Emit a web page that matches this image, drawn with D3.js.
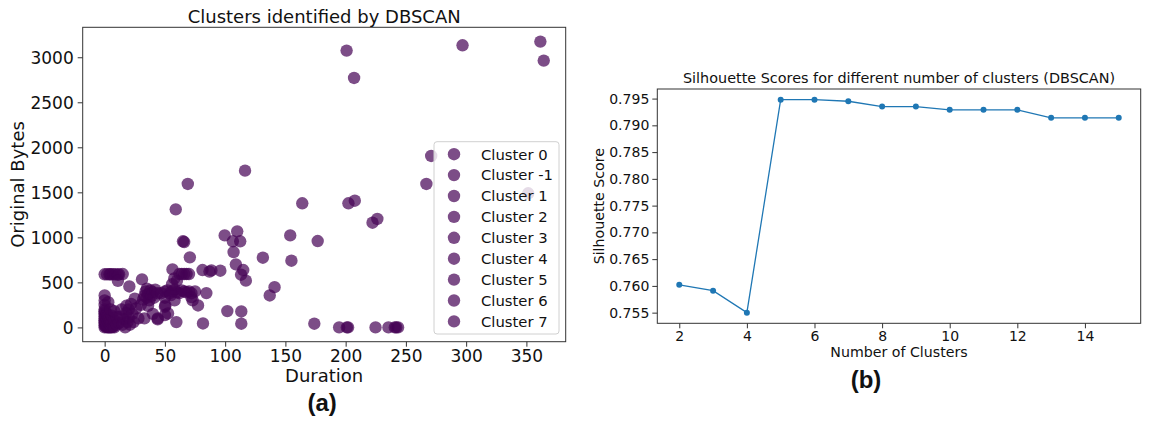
<!DOCTYPE html>
<html>
<head>
<meta charset="utf-8">
<script src="https://cdn.jsdelivr.net/npm/d3@7"></script>
<style>
  html, body { margin: 0; padding: 0; background: #fff; }
  svg text { font-family: "DejaVu Sans", sans-serif; fill: #111; }
</style>
</head>
<body>
<svg id="chart" width="1152" height="424"></svg>
<script>
// ---------------- DATA ----------------
const legendLabels = ["Cluster 0", "Cluster -1", "Cluster 1", "Cluster 2", "Cluster 3", "Cluster 4", "Cluster 5", "Cluster 6", "Cluster 7"];

// Panel (a): scatter points (Duration, Original Bytes)
const duration = [
  0,0,0,0,0,0,0,0,0,0,0,1,1,2,2,2,2,3,3,3,4,4,4,5,5,5,6,6,6,7,8,8,10,10,0,0,0,3,5,8,
  12,13,14,15,16,17,18,18,19,20,20,21,22,23,24,26,20.5,25,
  0,2,4,5,7,9,11,12,15,11,
  31,32,33,34,35,35,36,37,38,39,40,41,42,44,36,30,33,40,44,28,
  47,50,52,54,56,58,60,62,64,66,68,70,72,50,55,58,52.6,50.4,50,44,50,56,57.8,56.3,60,
  62,64,66,68,70,65,66,
  59.5,81.6,101.8,113.4,113.4,84.4,77.5,72,137,141,174,69,59,116.5,99.6,110,106.4,112.5,107,70.7,131.3,108.9,81.2,88.6,96,115,113.2,117.2,
  154,176.8,155,164,202.3,207.6,222.3,226.3,200.8,207,297,361.6,364.4,271,267,351.5,
  194.6,201,202,224.8,235.5,240.8,242,243.5,87,75,73
];
const bytes = [
  0,20,40,60,80,100,120,140,160,180,200,10,50,0,30,90,150,0,60,120,0,40,100,0,20,70,0,50,130,10,0,80,30,120,250,300,355,280,200,180,
  50,120,200,30,90,0,160,240,60,110,200,30,260,150,60,210,455,320,
  590,590,590,590,590,590,585,590,593,518,
  533,310,350,400,330,430,370,300,410,350,390,330,420,380,240,250,100,150,100,100,
  380,400,410,380,400,420,390,380,410,400,390,400,380,330,360,300,155,244,137,89,230,480,544,644,520,
  593,593,593,593,593,956,948,
  59,44,181,177,41,381,244,336,355,447,41,1593,1311,1741,1022,1067,956,956,837,778,774,700,637,633,630,637,585,519,
  1022,959,741,1378,1378,1407,1163,1204,3074,2770,3133,3174,2963,1904,1593,1489,
  0,0,0,0,0,0,0,0,620,400,300
];
const xTicksA = [0, 50, 100, 150, 200, 250, 300, 350];
const yTicksA = [0, 500, 1000, 1500, 2000, 2500, 3000];

// Panel (b): silhouette scores
const nClusters = [2, 3, 4, 5, 6, 7, 8, 9, 10, 11, 12, 13, 14, 15];
const scores = [0.7602, 0.7591, 0.7550, 0.7948, 0.7948, 0.7945, 0.7935, 0.7935, 0.7929, 0.7929, 0.7929, 0.7914, 0.7914, 0.7914];
const xTicksB = [2, 4, 6, 8, 10, 12, 14];
const yTicksB = [0.755, 0.760, 0.765, 0.770, 0.775, 0.780, 0.785, 0.790, 0.795];

// ---------------- HELPERS ----------------
const svg = d3.select("#chart");
function padded(ext, frac) { const r = ext[1] - ext[0]; return [ext[0] - r * frac, ext[1] + r * frac]; }

function styleAxis(g, fontSize) {
  g.select(".domain").remove();
  g.selectAll(".tick line").attr("stroke", "#333").attr("stroke-width", 1);
  g.selectAll(".tick text").style("font-size", fontSize + "px").attr("fill", "#111");
}

// ---------------- PANEL (a) ----------------
{
  const L = 82.7, R = 565.7, T = 27.3, B = 341.7;
  const pts = duration.map((d, i) => ({ d, b: bytes[i] }));
  const x = d3.scaleLinear().domain(padded(d3.extent(duration), 0.05)).range([L, R]);
  const y = d3.scaleLinear().domain(padded(d3.extent(bytes), 0.05)).range([B, T]);
  const g = svg.append("g");

  const gx = g.append("g").attr("transform", `translate(0,${B})`)
    .call(d3.axisBottom(x).tickValues(xTicksA).tickSize(5).tickPadding(3).tickFormat(d3.format("d")));
  styleAxis(gx, 17);
  const gy = g.append("g").attr("transform", `translate(${L},0)`)
    .call(d3.axisLeft(y).tickValues(yTicksA).tickSize(5).tickPadding(4).tickFormat(d3.format("d")));
  styleAxis(gy, 17);
  gy.selectAll(".tick text").attr("dy", "0.36em");

  g.append("g").selectAll("circle").data(pts).join("circle")
    .attr("cx", p => x(p.d)).attr("cy", p => y(p.b)).attr("r", 6.2)
    .attr("fill", "#440154").attr("fill-opacity", 0.7);

  g.append("rect").attr("x", L).attr("y", T).attr("width", R - L).attr("height", B - T)
    .attr("fill", "none").attr("stroke", "#333").attr("stroke-width", 1);

  g.append("text").attr("x", (L + R) / 2).attr("y", 23).attr("text-anchor", "middle")
    .style("font-size", "18px").text("Clusters identified by DBSCAN");
  g.append("text").attr("x", (L + R) / 2).attr("y", 382).attr("text-anchor", "middle")
    .style("font-size", "18px").text("Duration");
  g.append("text").attr("transform", `translate(24,${(T + B) / 2}) rotate(-90)`).attr("text-anchor", "middle")
    .style("font-size", "18px").text("Original Bytes");

  // legend
  const lgX = 434, lgY = 141.7, lgW = 125, lgH = 192.3, rowH = 20.9;
  const lg = g.append("g");
  lg.append("rect").attr("x", lgX).attr("y", lgY).attr("width", lgW).attr("height", lgH)
    .attr("rx", 3).attr("fill", "#fff").attr("fill-opacity", 0.8).attr("stroke", "#d0d0d0");
  const rows = lg.selectAll("g.row").data(legendLabels).join("g").attr("class", "row")
    .attr("transform", (d, i) => `translate(0,${lgY + 12.5 + i * rowH})`);
  rows.append("circle").attr("cx", lgX + 20).attr("cy", 0).attr("r", 6.2)
    .attr("fill", "#440154").attr("fill-opacity", 0.7);
  rows.append("text").attr("x", lgX + 47).attr("y", 0).attr("dy", "0.36em")
    .style("font-size", "14.8px").text(d => d);

  svg.append("text").attr("x", (L + R) / 2 - 2).attr("y", 411).attr("text-anchor", "middle")
    .style("font-family", "'Liberation Sans', Arial, sans-serif").style("font-weight", "bold")
    .style("font-size", "24px").text("(a)");
}

// ---------------- PANEL (b) ----------------
{
  const L = 657.3, R = 1140.7, T = 89, B = 323.3;
  const x = d3.scaleLinear().domain(padded(d3.extent(nClusters), 0.05)).range([L, R]);
  const y = d3.scaleLinear().domain(padded(d3.extent(scores), 0.05)).range([B, T]);
  const g = svg.append("g");

  const gx = g.append("g").attr("transform", `translate(0,${B})`)
    .call(d3.axisBottom(x).tickValues(xTicksB).tickSize(5).tickPadding(3).tickFormat(d3.format("d")));
  styleAxis(gx, 14);
  const gy = g.append("g").attr("transform", `translate(${L},0)`)
    .call(d3.axisLeft(y).tickValues(yTicksB).tickSize(5).tickPadding(3).tickFormat(d3.format(".3f")));
  styleAxis(gy, 14);

  const pts = nClusters.map((n, i) => ({ n, s: scores[i] }));
  g.append("path").datum(pts)
    .attr("d", d3.line().x(p => x(p.n)).y(p => y(p.s)))
    .attr("fill", "none").attr("stroke", "#1f77b4").attr("stroke-width", 1.3);
  g.append("g").selectAll("circle").data(pts).join("circle")
    .attr("cx", p => x(p.n)).attr("cy", p => y(p.s)).attr("r", 3).attr("fill", "#1f77b4");

  g.append("rect").attr("x", L).attr("y", T).attr("width", R - L).attr("height", B - T)
    .attr("fill", "none").attr("stroke", "#333").attr("stroke-width", 1);

  g.append("text").attr("x", (L + R) / 2).attr("y", 83).attr("text-anchor", "middle")
    .style("font-size", "14.4px").text("Silhouette Scores for different number of clusters (DBSCAN)");
  g.append("text").attr("x", (L + R) / 2).attr("y", 357).attr("text-anchor", "middle")
    .style("font-size", "14.2px").text("Number of Clusters");
  g.append("text").attr("transform", `translate(604,${(T + B) / 2}) rotate(-90)`).attr("text-anchor", "middle")
    .style("font-size", "14.2px").text("Silhouette Score");

  svg.append("text").attr("x", 866).attr("y", 388).attr("text-anchor", "middle")
    .style("font-family", "'Liberation Sans', Arial, sans-serif").style("font-weight", "bold")
    .style("font-size", "24px").text("(b)");
}
</script>
</body>
</html>
